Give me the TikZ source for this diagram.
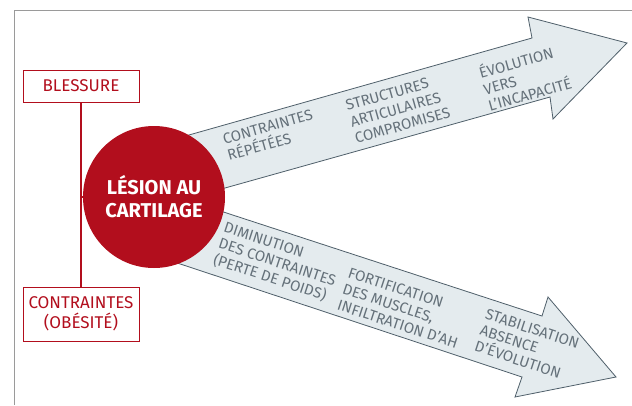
\documentclass[tikz,border=0pt]{standalone}
\usepackage{fontspec}
\setmainfont{Fira Sans}
\begin{document}
\definecolor{lesionred}{HTML}{B20E1D}
\definecolor{arrowfill}{HTML}{E4EBEE}
\definecolor{arrowline}{HTML}{4F5F6A}
\definecolor{arrowtext}{HTML}{65717A}
\definecolor{framegray}{HTML}{9A9A9A}
\begin{tikzpicture}[x=1pt,y=-1pt,
  bigarrow/.style={fill=arrowfill,draw=arrowline,line width=0.8pt,line join=miter},
  causebox/.style={draw=lesionred,line width=1pt,text=lesionred,inner sep=0pt,
    align=center,font=\fontsize{17}{19.5}\selectfont,minimum width=116pt},
  stage/.style={text=arrowtext,align=left,inner sep=0pt,
    font=\fontsize{15}{17}\selectfont},
  upstage/.style={stage,rotate=15.75},
  downstage/.style={stage,rotate=-18.2},
  link/.style={color=lesionred,line width=1.2pt}]
\useasboundingbox (0,0) rectangle (632,405);
% frame
\draw[framegray,line width=1pt] (14,405) -- (14,10) -- (632,10);
% lower arrow: improvement path
\draw[bigarrow] (150,188) -- (542,316) -- (548,297) -- (616,377)
  -- (515,397) -- (522,377) -- (150,254) -- cycle;
% upper arrow: worsening path
\draw[bigarrow] (150,146) -- (532,38) -- (528,17) -- (627,43)
  -- (553,119) -- (550,97) -- (150,209) -- cycle;
% causes
\node[causebox,minimum height=32pt] (blessure) at (81,86) {BLESSURE};
\node[causebox,minimum height=54pt] (obesite) at (81,314) {CONTRAINTES\\(OBÉSITÉ)};
% central lesion
\node[circle,fill=lesionred,minimum size=142pt,inner sep=0pt,text=white,align=center,
  font=\bfseries\fontsize{20}{23}\selectfont] (lesion) at (154,197) {LÉSION AU\\CARTILAGE};
\draw[link] (blessure.south) -- (obesite.north);
\draw[link] (lesion.west) -- (blessure.south |- lesion.west);
% stages along the arrows
\node[upstage] (u1) at (270,135) {CONTRAINTES\\RÉPÉTÉES};
\node[upstage] (u2) at (398,109) {STRUCTURES\\ARTICULAIRES\\COMPROMISES};
\node[upstage] (u3) at (525,77) {ÉVOLUTION\\VERS\\L'INCAPACITÉ};
\node[downstage] (d1) at (277,263) {DIMINUTION\\DES CONTRAINTES\\(PERTE DE POIDS)};
\node[downstage] (d2) at (403,308) {FORTIFICATION\\DES MUSCLES,\\INFILTRATION D'AH};
\node[downstage] (d3) at (527,345) {STABILISATION\\ABSENCE\\D'ÉVOLUTION};
\end{tikzpicture}
\end{document}
